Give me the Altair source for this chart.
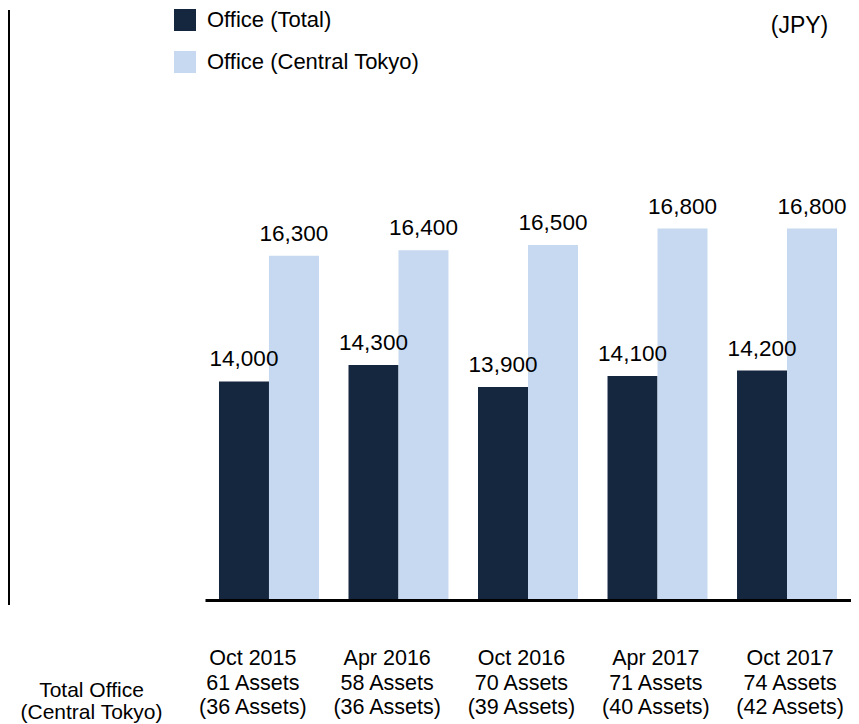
import altair as alt
import pandas as pd

periods = ["Oct 2015", "Apr 2016", "Oct 2016", "Apr 2017", "Oct 2017"]
office_total = [14000, 14300, 13900, 14100, 14200]
office_central = [16300, 16400, 16500, 16800, 16800]
total_assets = [61, 58, 70, 71, 74]
central_assets = [36, 36, 39, 40, 42]
series_names = ["Office (Total)", "Office (Central Tokyo)"]
series_colors = ["#14273F", "#C6D9F0"]

FONT = "Liberation Sans"

rows = []
for i, p in enumerate(periods):
    rows.append({"period": p, "series": series_names[0], "value": office_total[i]})
    rows.append({"period": p, "series": series_names[1], "value": office_central[i]})
df = pd.DataFrame(rows)
df["label"] = df["value"].map(lambda v: f"{v:,}")

lab = pd.DataFrame({
    "plabel": periods,
    "text": [f"{p}\n{t} Assets\n({c} Assets)" for p, t, c in zip(periods, total_assets, central_assets)],
})

x_scale = alt.Scale(paddingInner=0.228, paddingOuter=0.108)
x_enc = alt.X("period:N", sort=periods, scale=x_scale,
              axis=alt.Axis(labels=False, ticks=False, title=None, grid=False,
                            domainColor="black", domainWidth=3, zindex=1))
xo_enc = alt.XOffset("series:N", sort=series_names, scale=alt.Scale(paddingInner=0, paddingOuter=0))
y_scale = alt.Scale(domain=[10000, 20800], nice=False, zero=False)

bars = alt.Chart(df).mark_bar().encode(
    x=x_enc,
    xOffset=xo_enc,
    y=alt.Y("value:Q", scale=y_scale, axis=None),
    y2=alt.datum(10000),
    color=alt.Color("series:N", sort=series_names,
                    scale=alt.Scale(domain=series_names, range=series_colors),
                    legend=alt.Legend(title=None, orient="none", legendX=-31, legendY=-1,
                                      symbolType="square", symbolSize=484, symbolStrokeWidth=0,
                                      labelFont=FONT, labelFontSize=22, labelColor="black",
                                      labelLimit=0, labelOffset=11, rowPadding=20, padding=0)),
)

values = alt.Chart(df).mark_text(font=FONT, fontSize=22.5, color="black",
                                 baseline="alphabetic", dy=-15).encode(
    x=alt.X("period:N", sort=periods),
    xOffset=alt.XOffset("series:N", sort=series_names),
    y=alt.Y("value:Q", scale=y_scale),
    text="label:N",
)

main = alt.layer(bars, values)

cat_labels = alt.Chart(lab).mark_text(font=FONT, fontSize=21.5, color="black",
                                      baseline="alphabetic", lineBreak="\n",
                                      lineHeight=24.5).encode(
    x=alt.X("plabel:N", sort=periods,
            scale=alt.Scale(type="point", padding=0.405, align=0.44), axis=None),
    y=alt.value(655),
    text="text:N",
)

one = alt.Data(values=[{"t": "Total Office\n(Central Tokyo)"}])
left_title = alt.Chart(one).mark_text(font=FONT, fontSize=21, color="black",
                                      baseline="alphabetic", lineBreak="\n",
                                      lineHeight=22).encode(
    x=alt.value(-113.5), y=alt.value(687), text="t:N")

jpy = alt.Chart(alt.Data(values=[{"t": "(JPY)"}])).mark_text(
    font=FONT, fontSize=23, color="black", baseline="alphabetic").encode(
    x=alt.value(594.5), y=alt.value(23), text="t:N")

vline = alt.Chart(alt.Data(values=[{}])).mark_rule(color="black", strokeWidth=2).encode(
    x=alt.value(-196), y=alt.value(0), y2=alt.value(595))

chart = alt.layer(main, cat_labels, left_title, jpy, vline).resolve_scale(
    x="independent"
).properties(
    width=646, height=590,
    autosize=alt.AutoSizeParams(type="none"),
    padding={"left": 197, "top": 2, "right": 0, "bottom": 124},
).configure_view(stroke=None)

chart.save("out.html", embed_options={"renderer": "svg", "actions": False})
